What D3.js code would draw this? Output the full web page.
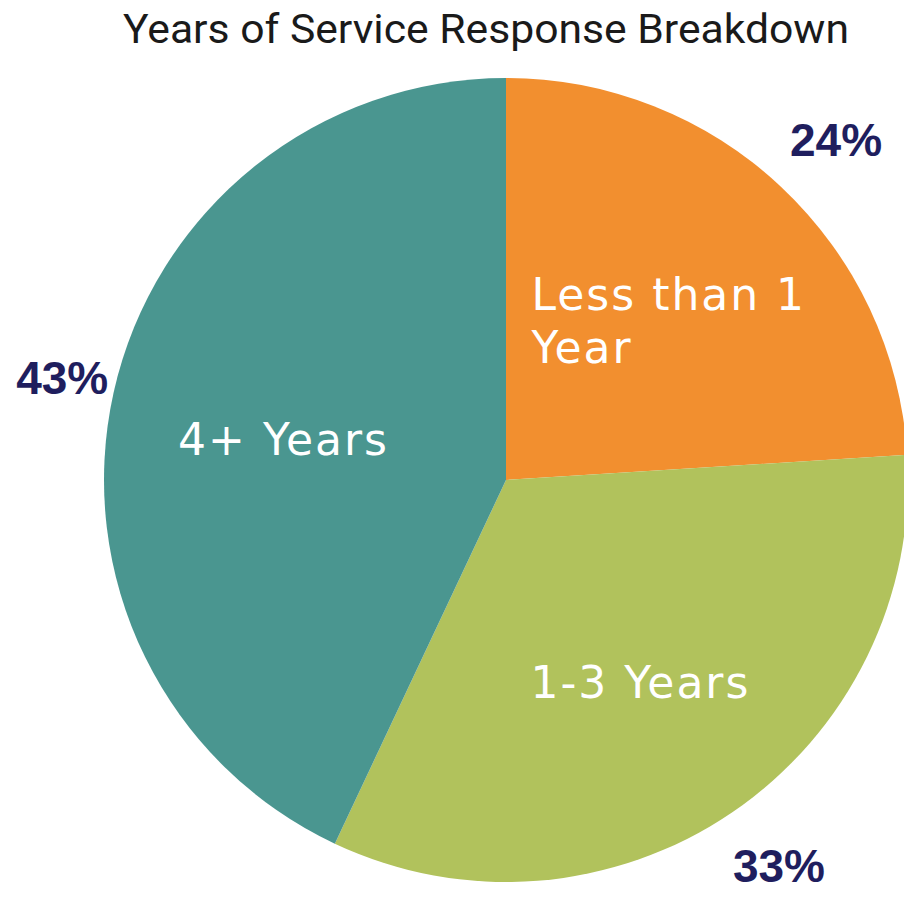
<!DOCTYPE html>
<html>
<head>
<meta charset="utf-8">
<script src="https://cdn.jsdelivr.net/npm/d3@7.9.0/dist/d3.min.js"></script>
<style>
  body { margin: 0; background: #fff; }
</style>
</head>
<body>
<svg id="pie-chart"></svg>
<script>
// chart data
const categories = ['Less than 1 Year', '1-3 Years', '4+ Years'];
const values = [24, 33, 43];
const innerLabels = [['Less than 1', 'Year'], ['1-3 Years'], ['4+ Years']];
const colors = ['#F28F2F', '#B1C25C', '#4A9690'];
const title = 'Years of Service Response Breakdown';

const width = 904;
const height = 906;
const cx = 506;
const cy = 480;
const radius = 402;

const svg = d3.select('#pie-chart')
  .attr('width', width)
  .attr('height', height);

// title
svg.append('text')
  .attr('x', 486)
  .attr('y', 43)
  .attr('text-anchor', 'middle')
  .attr('textLength', 726)
  .attr('lengthAdjust', 'spacingAndGlyphs')
  .style('font-family', 'Roboto')
  .style('font-size', '41px')
  .style('fill', '#1a1a1a')
  .text(title);

const data = categories.map((c, i) => ({ name: c, value: values[i], lines: innerLabels[i], color: colors[i] }));

// slices go clockwise from 12 o'clock, in data order
const pie = d3.pie().value(d => d.value).sort(null);
const arcs = pie(data);

const arc = d3.arc().innerRadius(0).outerRadius(radius);
const innerArc = d3.arc().innerRadius(232).outerRadius(232);
const outerArc = d3.arc().innerRadius(466).outerRadius(466);

const g = svg.append('g').attr('transform', `translate(${cx},${cy})`);

g.selectAll('path')
  .data(arcs)
  .join('path')
  .attr('d', arc)
  .attr('fill', d => d.data.color);

// labels inside the slices: a left-aligned block centred on the centroid
const inner = g.selectAll('.inner-label')
  .data(arcs)
  .join('text')
  .attr('class', 'inner-label')
  .style('font-family', 'DejaVu Sans')
  .style('font-size', '44px')
  .style('letter-spacing', '2px')
  .style('fill', '#fff');

inner.each(function (d) {
  const lines = d.data.lines;
  const lh = 53;
  const sel = d3.select(this);
  const spans = lines.map((t, j) =>
    sel.append('tspan')
      .attr('y', (j - (lines.length - 1) / 2) * lh + 26)
      .text(t));
  const w = d3.max(spans, s => s.node().getComputedTextLength());
  const [x, y] = innerArc.centroid(d);
  spans.forEach(s => s.attr('x', -w / 2 + 4));
  sel.attr('transform', `translate(${x},${y})`);
});

// percentage labels outside
g.selectAll('.pct-label')
  .data(arcs)
  .join('text')
  .attr('class', 'pct-label')
  .attr('transform', d => `translate(${outerArc.centroid(d)})`)
  .attr('text-anchor', 'middle')
  .attr('dx', 11)
  .attr('dy', '0.35em')
  .style('font-family', 'Liberation Sans, Arial, sans-serif')
  .style('font-weight', 'bold')
  .style('font-size', '46px')
  .style('fill', '#1F1E5E')
  .text(d => d.data.value + '%');
</script>
</body>
</html>
